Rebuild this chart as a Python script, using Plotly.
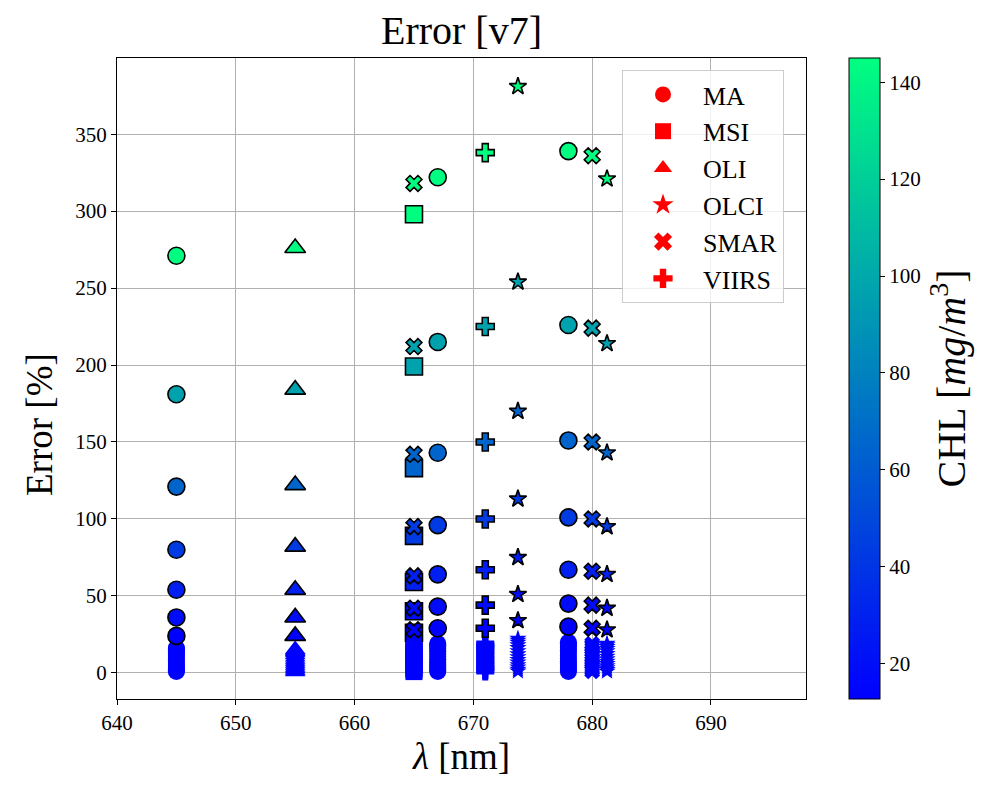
import plotly.graph_objects as go

# ---------------- data ----------------
SENSORS = ["MA", "MSI", "OLI", "OLCI", "SMAR", "VIIRS"]
SYMBOLS = ["circle", "square", "triangle-up", "star", "x", "cross"]
MARKER_SIZES = [17, 17, 18, 13, 14, 15]

# chlorophyll levels of the outlined points (top row -> bottom row)
CHL_LEVELS = [145.0, 96.7, 64.4, 43.0, 28.6, 19.1, 12.7]

# outlined points: error [%] per band, same order as CHL_LEVELS
MA_645_ERR = [271, 181, 121, 80, 54, 36, 24]
MA_667_ERR = [322, 215, 143, 96, 64, 43, 29]
MA_678_ERR = [339, 226, 151, 101, 67, 45, 30]
MSI_665_ERR = [298, 199, 133, 89, 59, 40, 26]
OLI_655_ERR = [276, 184, 122, 82, 54, 36, 24]
OLCI_674_ERR = [381, 254, 170, 113, 75, 51, 34]
OLCI_681_ERR = [321, 214, 143, 95, 64, 42, 28]
SMAR_665_ERR = [318, 212, 142, 95, 63, 42, 28]
SMAR_680_ERR = [336, 224, 150, 100, 66, 44, 29]
VIIRS_671_ERR = [338, 225, 150, 100, 67, 44, 29]

# low-chlorophyll points (no outline)
LOW_CHL = [0.4, 0.9, 1.5, 2.1, 2.8, 3.5, 4.3, 5.1, 6.0, 7.0, 8.0, 9.2, 10.5, 11.8]
MA_645_LOW = [0.8, 1.7, 2.8, 3.9, 5.2, 6.5, 8.0, 9.5, 11.0, 12.6, 13.8, 14.8, 15.6, 16.2]
MA_667_LOW = [0.9, 1.9, 3.1, 4.4, 5.8, 7.3, 8.9, 10.6, 12.3, 14.1, 15.6, 16.9, 18.0, 19.0]
MA_678_LOW = [0.9, 2.0, 3.2, 4.6, 6.1, 7.6, 9.3, 11.1, 12.9, 14.7, 16.3, 17.7, 18.9, 19.9]
MSI_665_LOW = [0.8, 1.8, 2.9, 4.1, 5.5, 6.9, 8.4, 10.0, 11.6, 13.2, 14.5, 15.6, 16.5, 17.2]
OLI_655_LOW = [0.7, 1.6, 2.6, 3.7, 4.9, 6.2, 7.5, 8.9, 10.3, 11.8, 13.0, 13.9, 14.6, 15.2]
OLCI_674_LOW = [1.0, 2.2, 3.6, 5.1, 6.8, 8.5, 10.3, 12.2, 14.2, 16.2, 18.0, 19.6, 21.0, 22.2]
OLCI_681_LOW = [0.9, 1.9, 3.1, 4.4, 5.8, 7.3, 8.9, 10.6, 12.3, 14.1, 15.6, 16.9, 18.0, 19.0]
SMAR_665_LOW = [0.8, 1.9, 3.0, 4.3, 5.7, 7.2, 8.8, 10.4, 12.1, 13.8, 15.3, 16.6, 17.6, 18.3]
SMAR_680_LOW = [0.9, 1.9, 3.1, 4.4, 5.8, 7.3, 8.9, 10.6, 12.3, 14.1, 15.6, 16.9, 18.0, 19.0]
VIIRS_671_LOW = [0.9, 1.9, 3.1, 4.4, 5.8, 7.3, 8.9, 10.6, 12.3, 14.1, 15.6, 16.9, 18.0, 19.0]

# band table: (sensor, wavelength, outlined errors, low errors)
BANDS = [
    ("MA", 645, MA_645_ERR, MA_645_LOW),
    ("MA", 667, MA_667_ERR, MA_667_LOW),
    ("MA", 678, MA_678_ERR, MA_678_LOW),
    ("MSI", 665, MSI_665_ERR, MSI_665_LOW),
    ("OLI", 655, OLI_655_ERR, OLI_655_LOW),
    ("OLCI", 673.75, OLCI_674_ERR, OLCI_674_LOW),
    ("OLCI", 681.25, OLCI_681_ERR, OLCI_681_LOW),
    ("SMAR", 665, SMAR_665_ERR, SMAR_665_LOW),
    ("SMAR", 680, SMAR_680_ERR, SMAR_680_LOW),
    ("VIIRS", 671, VIIRS_671_ERR, VIIRS_671_LOW),
]

X_TICKS = [640, 650, 660, 670, 680, 690]
Y_TICKS = [0, 50, 100, 150, 200, 250, 300, 350]
CB_TICKS = [20, 40, 60, 80, 100, 120, 140]

FONT = "Liberation Serif"
W, H = 989, 790
L, R, T, B = 117, 806, 58, 699

fig = go.Figure()

for sensor, sym, msz in zip(SENSORS, SYMBOLS, MARKER_SIZES):
    xs_lo, ys_lo, cs_lo = [], [], []
    xs_hi, ys_hi, cs_hi = [], [], []
    for s, wl, err, low in BANDS:
        if s != sensor:
            continue
        xs_lo += [wl] * len(low)
        ys_lo += low
        cs_lo += LOW_CHL
        xs_hi += [wl] * len(err)
        ys_hi += err
        cs_hi += CHL_LEVELS
    fig.add_trace(go.Scatter(
        x=xs_lo, y=ys_lo, mode="markers", showlegend=False,
        marker=dict(symbol=sym, size=msz, color=cs_lo, coloraxis="coloraxis",
                    line=dict(width=0)),
    ))
    fig.add_trace(go.Scatter(
        x=xs_hi[::-1], y=ys_hi[::-1], mode="markers", showlegend=False,
        marker=dict(symbol=sym, size=msz, color=cs_hi[::-1], coloraxis="coloraxis",
                    line=dict(width=1.6, color="black")),
    ))

# legend entries (red markers)
for sensor, sym in zip(SENSORS, SYMBOLS):
    fig.add_trace(go.Scatter(
        x=[None], y=[None], mode="markers", name=sensor, legendgroup=sensor,
        marker=dict(symbol=sym, size=18, color="red", line=dict(width=0)),
    ))

axis_common = dict(
    showgrid=True, gridcolor="#b0b0b0", gridwidth=1,
    showline=True, linecolor="black", linewidth=1.2, mirror=True,
    ticks="outside", ticklen=5, tickcolor="black",
    tickfont=dict(family=FONT, size=21, color="black"),
    zeroline=False,
)

fig.update_layout(
    width=W, height=H,
    margin=dict(l=L, r=W - R, t=T, b=H - B, pad=0),
    paper_bgcolor="white", plot_bgcolor="white",
    font=dict(family=FONT, color="black"),
    title=dict(text="Error [v7]", x=(L + R) / 2 / W, xanchor="center",
               xref="container", y=1 - 30 / H, yref="container", yanchor="middle",
               font=dict(family=FONT, size=40, color="black")),
    xaxis=dict(range=[640, 698], tickvals=X_TICKS,
               title=dict(text="<i>λ</i> [nm]", font=dict(family=FONT, size=37), standoff=8),
               **axis_common),
    yaxis=dict(range=[-17, 399.5], tickvals=Y_TICKS, **axis_common),
    annotations=[dict(
        text="Error [%]", textangle=-90, showarrow=False,
        xref="paper", yref="paper",
        x=(40 - L) / (R - L), y=(B - 425) / (B - T),
        xanchor="center", yanchor="middle",
        font=dict(family=FONT, size=37, color="black"),
    )],
    coloraxis=dict(
        colorscale=[[0, "rgb(0,0,255)"], [1, "rgb(0,255,128)"]],
        cmin=12.7, cmax=145,
        colorbar=dict(
            x=(849 - L) / (R - L), xanchor="left", y=0.5, yanchor="middle",
            len=1, lenmode="fraction", thickness=31, xpad=0, ypad=0,
            outlinewidth=1, outlinecolor="black",
            ticks="outside", ticklen=5, tickcolor="black", tickvals=CB_TICKS,
            tickfont=dict(family=FONT, size=21, color="black"),
            title=dict(text="CHL [<i>mg</i>/<i>m</i><sup>3</sup>]", side="right",
                       font=dict(family=FONT, size=40, color="black")),
        ),
    ),
    legend=dict(
        x=(622 - L) / (R - L), xanchor="left", y=(B - 70) / (B - T), yanchor="top",
        bgcolor="rgba(255,255,255,0.8)", bordercolor="#cccccc", borderwidth=1,
        font=dict(family=FONT, size=26, color="black"),
        itemsizing="trace", tracegroupgap=0, itemwidth=70,
    ),
)

fig.write_html("out.html")
